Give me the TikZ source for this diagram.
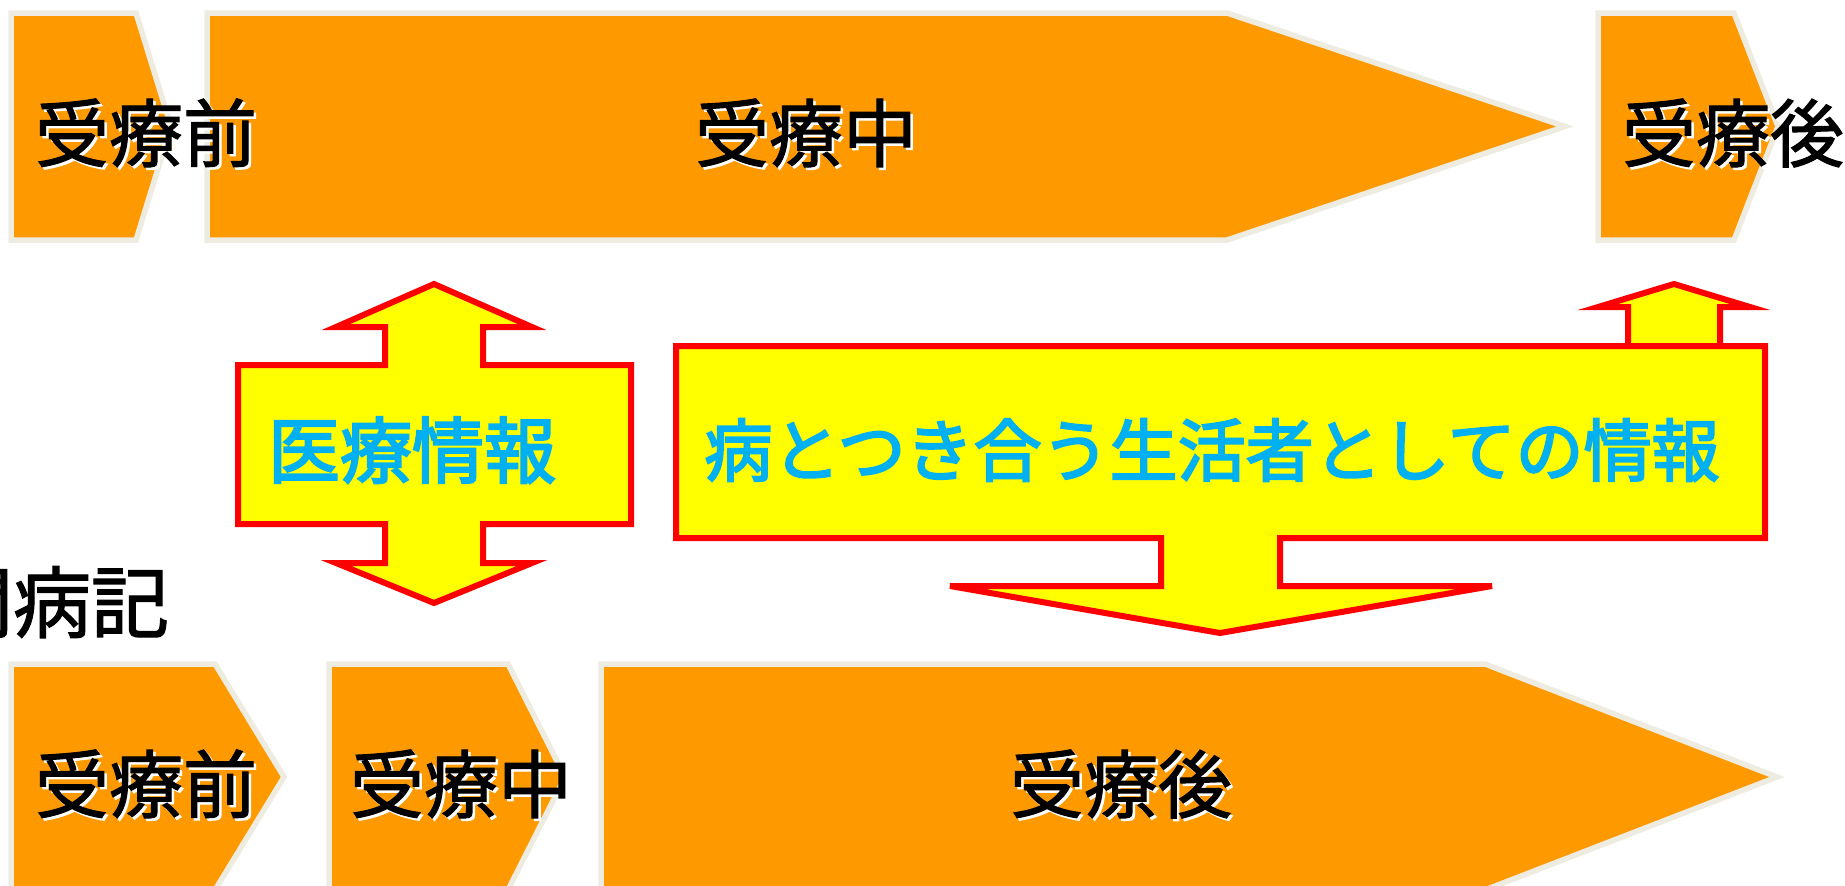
\documentclass[tikz,border=0pt]{standalone}
\usepackage{fontspec}
\newfontfamily\jp[FakeBold=1.5]{Noto Sans CJK JP}
\newfontfamily\jpinfo[FakeBold=3]{Noto Sans CJK JP}
\definecolor{org}{RGB}{255,153,0}
\definecolor{bord}{RGB}{238,236,225}
\definecolor{cyantext}{RGB}{0,176,240}
\definecolor{yel}{RGB}{255,255,0}
\begin{document}
\begin{tikzpicture}[x=1pt,y=-1pt,
  phase/.style={fill=org,draw=bord,line width=5.5pt},
  callout/.style={fill=yel,draw=red,line width=6pt},
  lbl/.style={font=\jp\fontsize{74}{74}\selectfont,inner sep=0pt,text height=65.1pt,text depth=8.9pt},
  shadowlbl/.style={lbl,text=white},
  mainlbl/.style={lbl,text=black},
  infolbl/.style={inner sep=0pt,text=cyantext}]
\useasboundingbox (0,0) rectangle (1845,886);
\clip (0,0) rectangle (1845,886);
\fill[white] (0,0) rectangle (1845,886);

% top row
\draw[phase] (11,13) -- (136,13) -- (171,126.5) -- (136,240) -- (11,240) -- cycle;
\draw[phase] (207,13) -- (1227,13) -- (1565,126.5) -- (1227,240) -- (207,240) -- cycle;
\draw[phase] (1598,13) -- (1734,13) -- (1778,126.5) -- (1734,240) -- (1598,240) -- cycle;

% bottom row
\draw[phase] (11,664) -- (215,664) -- (284,777) -- (215,890) -- (11,890) -- cycle;
\draw[phase] (329,664) -- (508,664) -- (565,777) -- (508,890) -- (329,890) -- cycle;
\draw[phase] (601,664) -- (1485,664) -- (1777,777) -- (1485,890) -- (601,890) -- cycle;

% medical info up-down arrow
\draw[callout] (434,284) -- (532,327) -- (483,327) -- (483,365) -- (631,365) -- (631,524)
  -- (483,524) -- (483,563) -- (532,563) -- (434,603) -- (336,563) -- (385,563)
  -- (385,524) -- (238,524) -- (238,365) -- (385,365) -- (385,327) -- (336,327) -- cycle;
\node[infolbl,font=\jpinfo\fontsize{72}{72}\selectfont,text height=63.4pt,text depth=8.6pt] (med) at (412,450) {医療情報};

% life info callout
\draw[callout] (1674,284) -- (1750,307) -- (1720,307) -- (1720,346) -- (1628,346) -- (1628,307) -- (1598,307) -- cycle;
\draw[callout] (676,346) -- (1765,346) -- (1765,538) -- (1280,538) -- (1280,586) -- (1492,586)
  -- (1220,633) -- (950,586) -- (1161,586) -- (1161,538) -- (676,538) -- cycle;
\node[infolbl,font=\jpinfo\fontsize{68}{68}\selectfont,text height=59.8pt,text depth=8.2pt] (life) at (1212,450) {病とつき合う生活者としての情報};

% labels with white shadow
\node[shadowlbl] (t1s) at (148.5,135.5) {受療前};
\node[mainlbl] (t1) at (146,133) {受療前};
\node[shadowlbl] (t2s) at (808.5,135.5) {受療中};
\node[mainlbl] (t2) at (806,133) {受療中};
\node[shadowlbl] (t3s) at (1735.5,135.5) {受療後};
\node[mainlbl] (t3) at (1733,133) {受療後};

\node[shadowlbl] (b1s) at (148.5,786.5) {受療前};
\node[mainlbl] (b1) at (146,784) {受療前};
\node[shadowlbl] (b2s) at (463.5,786.5) {受療中};
\node[mainlbl] (b2) at (461,784) {受療中};
\node[shadowlbl] (b3s) at (1123.5,786.5) {受療後};
\node[mainlbl] (b3) at (1121,784) {受療後};

\node[inner sep=0pt,font=\jp\fontsize{78}{78}\selectfont,text height=68.6pt,text depth=9.4pt] (title) at (52,602) {闘病記};
\end{tikzpicture}
\end{document}
